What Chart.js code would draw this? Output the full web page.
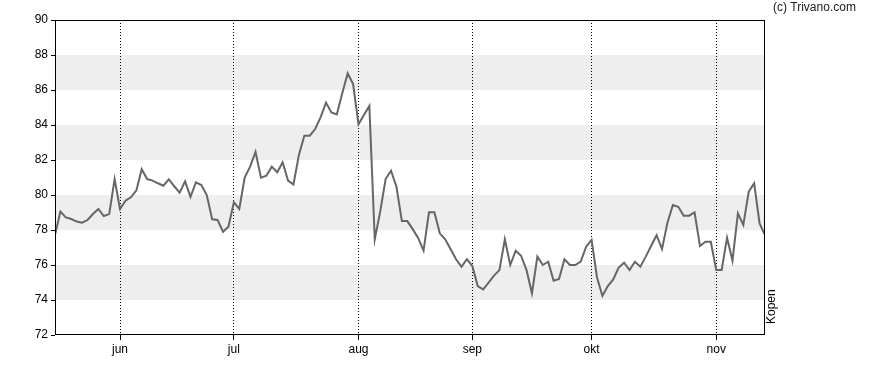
<!DOCTYPE html>
<html>
<head>
<meta charset="utf-8">
<script src="https://cdn.jsdelivr.net/npm/chart.js@4"></script>
<style>
  html, body { margin: 0; padding: 0; background: #fff; }
  #wrap { position: relative; width: 888px; height: 370px; }
</style>
</head>
<body>
<div id="wrap"><canvas id="c" width="888" height="370"></canvas></div>
<script>
// ---- data ----
const prices = [
  77.71, 79.05, 78.72, 78.63, 78.48, 78.42, 78.57, 78.91, 79.2, 78.8,
  78.91, 80.9, 79.2, 79.67, 79.87, 80.25, 81.47, 80.91, 80.82, 80.67,
  80.53, 80.9, 80.5, 80.13, 80.78, 79.9, 80.72, 80.57, 80.0, 78.61,
  78.57, 77.9, 78.19, 79.58, 79.2, 80.99, 81.62, 82.47, 80.99, 81.1,
  81.62, 81.3, 81.87, 80.82, 80.6, 82.29, 83.39, 83.39, 83.77, 84.44,
  85.28, 84.72, 84.61, 85.81, 86.95, 86.34, 84.04, 84.57, 85.09, 77.47,
  79.05, 80.91, 81.39, 80.47, 78.51, 78.51, 78.05, 77.55, 76.82, 79.01,
  79.01, 77.81, 77.47, 76.9, 76.33, 75.9, 76.33, 75.94, 74.8, 74.61,
  74.99, 75.39, 75.71, 77.47, 76.0, 76.82, 76.53, 75.71, 74.38, 76.48,
  76.0, 76.19, 75.1, 75.2, 76.33, 76.0, 76.0, 76.19, 77.05, 77.43,
  75.3, 74.23, 74.8, 75.18, 75.85, 76.13, 75.71, 76.19, 75.9, 76.48,
  77.1, 77.7, 76.91, 78.42, 79.43, 79.33, 78.82, 78.82, 79.01, 77.09,
  77.33, 77.33, 75.71, 75.71, 77.56, 76.25, 78.95, 78.29, 80.19, 80.67,
  78.38, 77.71
];
const monthLabels = ['jun', 'jul', 'aug', 'sep', 'okt', 'nov'];
const monthIndex  = [12, 33, 56, 77, 99, 122];
const yTicks = [72, 74, 76, 78, 80, 82, 84, 86, 88, 90];
const bands = [[74, 76], [78, 80], [82, 84], [86, 88]];
const copyrightText = '(c) Trivano.com';
const adviceText = 'Kopen';

const points = prices.map((v, i) => ({ x: i, y: v }));

const FONT = '"Liberation Sans", Arial, sans-serif';

const decor = {
  id: 'decor',
  beforeDraw(chart) {
    const { ctx, chartArea: a, scales: { y } } = chart;
    ctx.save();
    ctx.fillStyle = '#eeeeee';
    bands.forEach(([lo, hi]) => {
      const y1 = y.getPixelForValue(hi), y2 = y.getPixelForValue(lo);
      ctx.fillRect(a.left, y1, a.right - a.left, y2 - y1);
    });
    ctx.restore();
  },
  afterDraw(chart) {
    const { ctx, chartArea: a } = chart;
    ctx.save();
    ctx.strokeStyle = '#000';
    ctx.lineWidth = 1;
    ctx.setLineDash([]);
    ctx.strokeRect(Math.round(a.left) + 0.5, Math.round(a.top) + 0.5,
                   Math.round(a.right - a.left) - 1, Math.round(a.bottom - a.top) - 1);
    ctx.fillStyle = '#222';
    ctx.font = '12px ' + FONT;
    ctx.textAlign = 'left';
    ctx.textBaseline = 'top';
    ctx.fillText(copyrightText, 773, 2);
    ctx.translate(778, a.bottom - 11);
    ctx.rotate(-Math.PI / 2);
    ctx.textAlign = 'left';
    ctx.textBaseline = 'bottom';
    ctx.fillStyle = '#000';
    ctx.fillText(adviceText, 0, 0);
    ctx.restore();
  }
};

new Chart(document.getElementById('c'), {
  type: 'line',
  data: {
    datasets: [{
      data: points,
      borderColor: '#666666',
      borderWidth: 2,
      pointRadius: 0,
      tension: 0,
      fill: false
    }]
  },
  options: {
    responsive: false,
    animation: false,
    layout: { padding: { left: 0, right: 123, top: 20, bottom: 0 } },
    plugins: { legend: { display: false }, tooltip: { enabled: false } },
    scales: {
      x: {
        type: 'linear',
        min: 0,
        max: prices.length - 1,
        afterBuildTicks(scale) {
          scale.ticks = monthIndex.map(v => ({ value: v }));
        },
        afterFit(scale) { scale.height = 35; },
        ticks: {
          autoSkip: false,
          maxRotation: 0,
          padding: 2,
          color: '#000',
          font: { family: FONT, size: 12 },
          callback(v) {
            const k = monthIndex.indexOf(v);
            return k >= 0 ? monthLabels[k] : '';
          }
        },
        grid: {
          display: true,
          drawOnChartArea: true,
          color: '#000',
          lineWidth: 1,
          tickLength: 5,
          tickColor: '#000',
          tickBorderDash: [],
          tickWidth: 1
        },
        border: { display: false, dash: [1, 2] }
      },
      y: {
        min: 72,
        max: 90,
        afterBuildTicks(scale) {
          scale.ticks = yTicks.map(v => ({ value: v }));
        },
        afterFit(scale) { scale.width = 55; },
        ticks: {
          padding: 3,
          color: '#000',
          font: { family: FONT, size: 12 }
        },
        grid: {
          display: true,
          drawOnChartArea: false,
          tickLength: 4,
          tickColor: '#000',
          tickWidth: 1
        },
        border: { display: false }
      }
    }
  },
  plugins: [decor]
});
</script>
</body>
</html>
